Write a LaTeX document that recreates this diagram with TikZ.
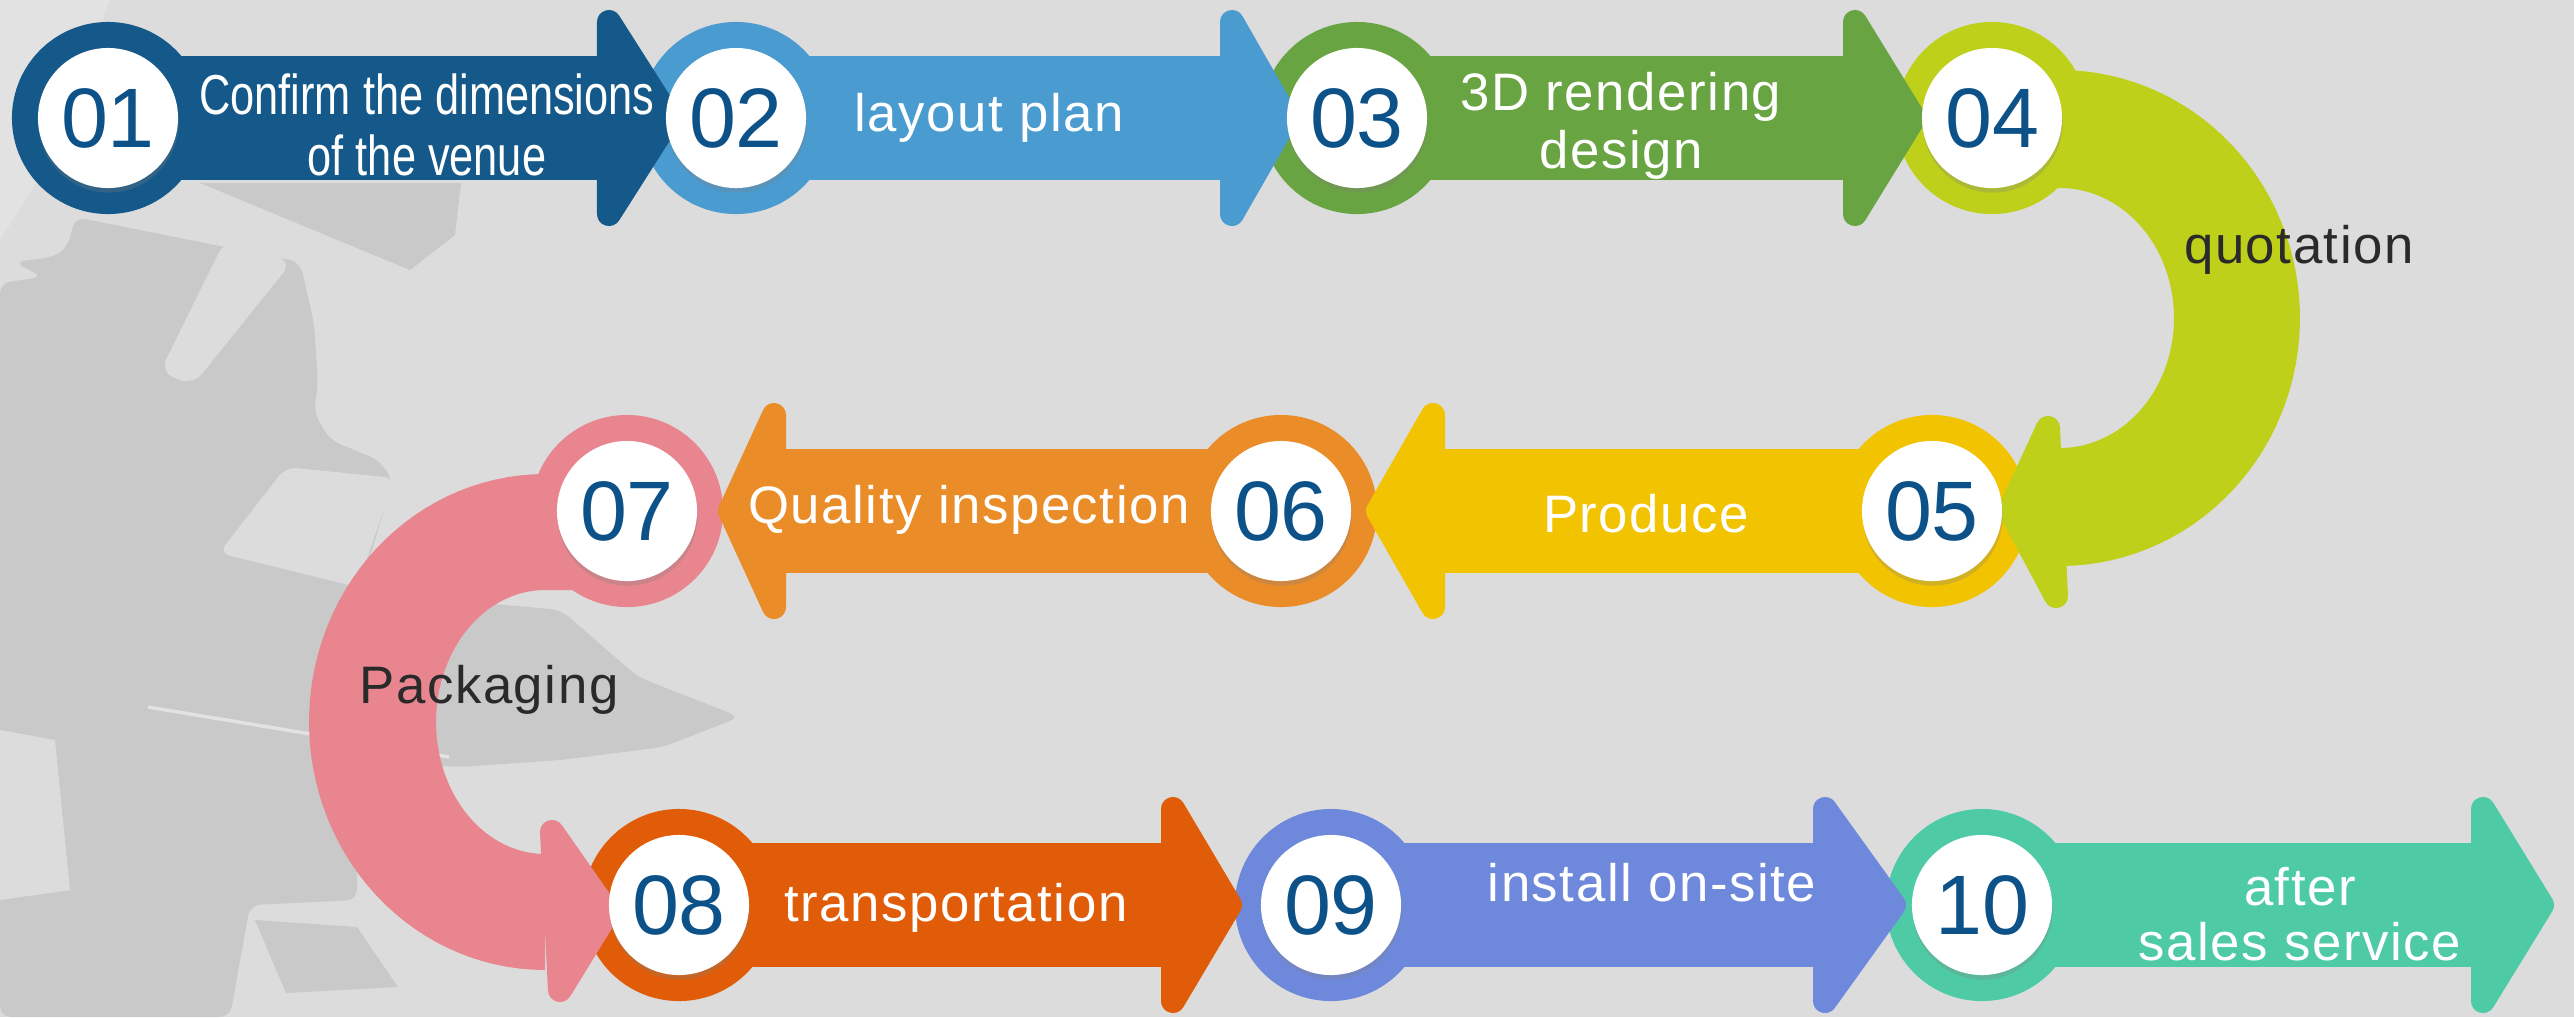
\documentclass[tikz,border=0pt]{standalone}
\usepackage{fontspec}
\setmainfont{Liberation Sans}
\newfontfamily\lblfont[LetterSpace=3]{Liberation Sans}
\usetikzlibrary{shadows}
\definecolor{bgc}{HTML}{DCDCDC}
\definecolor{silc}{HTML}{C9C9C9}
\definecolor{lightc}{HTML}{E2E2E2}
\definecolor{c01}{HTML}{14598A}
\definecolor{c02}{HTML}{4A9BCF}
\definecolor{c03}{HTML}{69A443}
\definecolor{c04}{HTML}{BED01A}
\definecolor{c05}{HTML}{F2C300}
\definecolor{c06}{HTML}{EA8C28}
\definecolor{c07}{HTML}{E8858F}
\definecolor{c08}{HTML}{E05C08}
\definecolor{c09}{HTML}{6E89DC}
\definecolor{c10}{HTML}{4ECBA5}
\definecolor{numc}{HTML}{0C5289}
\definecolor{txtdark}{HTML}{2A2A2A}
\tikzset{
  wc/.style={circle, fill=white, minimum size=1.40cm, inner sep=0pt, text=numc,
    font=\fontsize{24}{24}\selectfont,
    drop shadow={opacity=0.28, shadow xshift=0.2pt, shadow yshift=-1.3pt}},
  lbl/.style={text=white, font=\lblfont\fontsize{15}{16.5}\selectfont, align=center, inner sep=0pt},
  dlbl/.style={lbl, text=txtdark},
  headst/.style={fill=#1, draw=#1, line width=0.24cm, line join=round},
  sil/.style={fill=silc},
  lite/.style={fill=bgc},
}
% right-pointing arrow: colour, cx, cy, back, tip
\newcommand\arrR[5]{%
  \fill[#1] (#2,#3-62) rectangle (#4+14,#3+62);
  \filldraw[headst=#1] (#4+12,#3-96) -- (#5-16,#3) -- (#4+12,#3+96) -- cycle;}
% left-pointing arrow: colour, cx, cy, back, tip
\newcommand\arrL[5]{%
  \fill[#1] (#4-14,#3-62) rectangle (#2,#3+62);
  \filldraw[headst=#1] (#4-12,#3-96) -- (#5+16,#3) -- (#4-12,#3+96) -- cycle;}
\begin{document}
\begin{tikzpicture}[x=0.01cm, y=-0.01cm]
\fill[bgc] (0,0) rectangle (2574,1017);
\useasboundingbox (0,0) rectangle (2574,1017);
% background silhouette
\fill[lightc] (0,0) -- (110,0) -- (45,170) -- (0,240) -- cycle;
\fill[sil] (200,183) -- (461,183) -- (455,235) -- (410,270) -- cycle;
\fill[sil, rounded corners=3pt] (75,217) -- (300,262) -- (314,323) -- (318,383) -- (314,413)
  -- (330,440) -- (379,460) -- (393,480) -- (360,590) -- (449,600) -- (561,610)
  -- (638,677) -- (740,717) -- (663,747) -- (561,760) -- (459,767) -- (357,760)
  -- (357,900) -- (250,905) -- (230,1017) -- (0,1017) -- (0,283) -- (43,277)
  -- (14,262) -- (54,257) -- (68,247) -- cycle;
\fill[lite, rounded corners=4pt] (225,240) -- (292,262) -- (193,385) -- (160,372) -- cycle;
\fill[lite, rounded corners=3pt] (286,467) -- (395,478) -- (357,587) -- (219,553) -- cycle;
\draw[lightc, line width=1pt] (148,707) -- (449,757);
\fill[sil] (255,920) -- (357,927) -- (398,987) -- (286,993) -- cycle;
\fill[lite] (0,730) -- (55,740) -- (70,890) -- (0,900) -- cycle;
\fill[sil] (143,960) rectangle (155,1017);
% rings
\fill[c01] (108,118) circle[radius=0.96cm];
\fill[c02] (736,118) circle[radius=0.96cm];
\fill[c03] (1357,118) circle[radius=0.96cm];
\fill[c04] (1992,118) circle[radius=0.96cm];
\fill[c05] (1932,511) circle[radius=0.96cm];
\fill[c06] (1281,511) circle[radius=0.96cm];
\fill[c07] (627,511) circle[radius=0.96cm];
\fill[c08] (679,905) circle[radius=0.96cm];
\fill[c09] (1331,905) circle[radius=0.96cm];
\fill[c10] (1982,905) circle[radius=0.96cm];
% curved bands
\fill[c04] (1992,70) -- plot[domain=-90:90, samples=60] ({2060+240*cos(\x)},{318+248*sin(\x)})
  -- plot[domain=90:-90, samples=60] ({2060+114*cos(\x)},{318+130*sin(\x)}) -- (1992,188) -- cycle;
\fill[c07] (627,474) -- plot[domain=270:90, samples=60] ({545+236*cos(\x)},{722+248*sin(\x)})
  -- plot[domain=90:270, samples=60] ({545+109*cos(\x)},{722+132*sin(\x)}) -- (627,590) -- cycle;
% straight arrows
\arrR{c01}{108}{118}{597}{686}
\arrR{c02}{736}{118}{1220}{1303}
\arrR{c03}{1357}{118}{1843}{1930}
\arrL{c05}{1932}{511}{1445}{1362}
\arrL{c06}{1281}{511}{786}{714}
\arrR{c08}{679}{905}{1161}{1246}
\arrR{c09}{1331}{905}{1813}{1910}
\arrR{c10}{1982}{905}{2471}{2558}
% heads of curved bands
\filldraw[headst=c04] (2048,428) -- (2010,510) -- (2056,596) -- cycle;
\filldraw[headst=c07] (552,832) -- (608,912) -- (560,990) -- cycle;
% number circles
\node[wc] (n01) at (108,118) {01};
\node[wc] (n02) at (736,118) {02};
\node[wc] (n03) at (1357,118) {03};
\node[wc] (n04) at (1992,118) {04};
\node[wc] (n05) at (1932,511) {05};
\node[wc] (n06) at (1281,511) {06};
\node[wc] (n07) at (627,511) {07};
\node[wc] (n08) at (679,905) {08};
\node[wc] (n09) at (1331,905) {09};
\node[wc] (n10) at (1982,905) {10};
% labels
\node[lbl, font=\fontsize{16}{17.4}\selectfont] (t01) at (427,125)
  {\scalebox{0.77}[1]{Confirm the dimensions}\\\scalebox{0.77}[1]{of the venue}};
\node[lbl] (t02) at (989,118) {layout plan};
\node[lbl] (t03) at (1621,126) {3D rendering\\design};
\node[dlbl] (t04) at (2299,250) {quotation};
\node[lbl] (t05) at (1646,514) {Produce};
\node[lbl] (t06) at (969,510) {Quality inspection};
\node[dlbl] (t07) at (489,690) {Packaging};
\node[lbl] (t08) at (956,908) {transportation};
\node[lbl] (t09) at (1652,883) {install on-site};
\node[lbl, font=\lblfont\fontsize{15}{15.5}\selectfont] (t10) at (2300,914) {after\\sales service};
\end{tikzpicture}
\end{document}
